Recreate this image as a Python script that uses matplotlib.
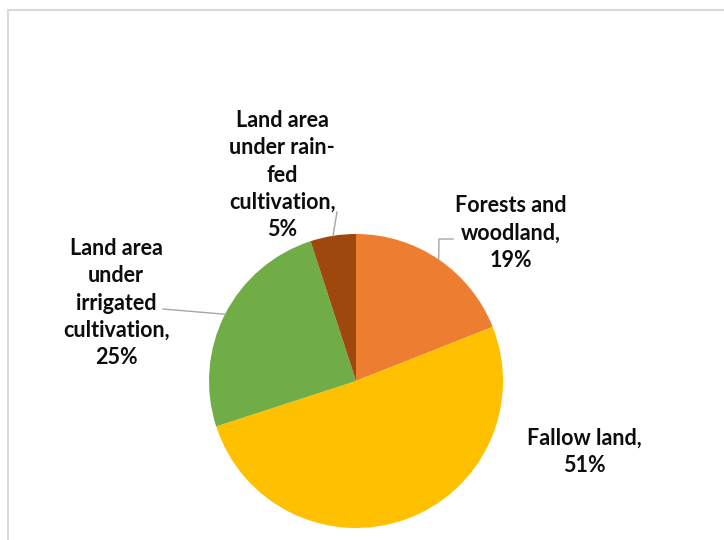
import numpy as np
import matplotlib
matplotlib.use("Agg")
from matplotlib import pyplot as plt
import matplotlib.patches as patches

labels = ["Forests and\nwoodland,\n19%",
          "Fallow land,\n51%",
          "Land area\nunder\nirrigated\ncultivation,\n25%",
          "Land area\nunder rain-\nfed\ncultivation,\n5%"]
shares = [19, 51, 25, 5]
colors = ["#ED7D31", "#FFC000", "#70AD47", "#9E480E"]

# label centres in pixels (from top left)
label_pos = [(511, 233), (584, 452), (116, 303), (282, 175)]
# label end of leader lines, None = no line
leader_end = [[(439, 239), (453, 239)], None, [(163, 309)], [(337, 212)]]

W, H = 724, 540
cx, cy, r = 356, 381, 147

fig = plt.figure(figsize=(W / 100, H / 100), dpi=100)
ax = fig.add_axes([0, 0, 1, 1])

wedges, _ = ax.pie(shares, colors=colors, startangle=90, counterclock=False,
                   center=(cx, H - cy), radius=r,
                   wedgeprops=dict(linewidth=0))
# pie resets the limits, so set them afterwards
ax.set_xlim(0, W)
ax.set_ylim(0, H)
ax.set_aspect("equal")
ax.axis("off")

# chart border
fig.patches.append(patches.Rectangle((8 / W, -0.1), 1.2, (H - 10) / H + 0.1,
                                     transform=fig.transFigure, fill=False,
                                     edgecolor="#D9D9D9", linewidth=1.5))

for w, lab, pos, ends in zip(wedges, labels, label_pos, leader_end):
    mid = np.deg2rad((w.theta1 + w.theta2) / 2)
    if ends is not None:
        xs = [cx + r * np.cos(mid)] + [p[0] for p in ends]
        ys = [H - cy + r * np.sin(mid)] + [H - p[1] for p in ends]
        ax.plot(xs, ys, color="#A6A6A6", linewidth=1)
    ax.text(pos[0], H - pos[1], lab, ha="center", va="center",
            fontsize=15.5, fontweight="bold", family="Lato",
            linespacing=1.38, color="#0D0D0D")

fig.savefig("out.png", dpi=100)
